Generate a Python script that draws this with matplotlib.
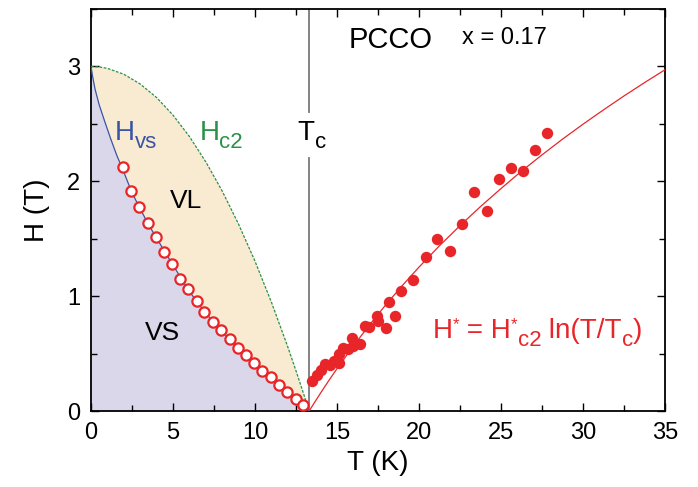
"""
PCCO x = 0.17 phase diagram: vortex solid / vortex liquid and H* above Tc.
Writes out.png
"""
import numpy as np
import matplotlib
matplotlib.use("Agg")
import matplotlib.pyplot as plt
from matplotlib.ticker import MultipleLocator

plt.rcParams["font.family"] = ["Liberation Sans", "DejaVu Sans"]

TC = 13.3

# ── data ─────────────────────────────────────────────────────────────
# H_vs, open circles (T in K, H in T)
vs_T = [1.93, 2.42, 2.95, 3.46, 3.95, 4.47, 4.96, 5.43, 5.90, 6.45, 6.91, 7.42,
        7.93, 8.48, 8.95, 9.45, 9.94, 10.45, 10.96, 11.46, 11.97, 12.48, 12.95]
vs_H = [2.126, 1.917, 1.778, 1.634, 1.517, 1.381, 1.277, 1.146, 1.059, 0.960,
        0.864, 0.777, 0.705, 0.624, 0.546, 0.487, 0.415, 0.351, 0.293, 0.226,
        0.168, 0.104, 0.052]

# H*, filled circles above Tc
hs_T = [13.45, 13.76, 14.00, 14.27, 14.57, 14.84, 15.14, 15.14, 15.39, 15.69,
        15.94, 16.00, 16.40, 16.71, 16.97, 17.42, 17.48, 17.99, 18.17, 18.54,
        18.90, 19.65, 20.41, 21.12, 21.89, 22.62, 23.35, 24.13, 24.86, 25.59,
        26.32, 27.09, 27.80]
hs_H = [0.261, 0.313, 0.357, 0.406, 0.400, 0.438, 0.415, 0.496, 0.546, 0.537,
        0.633, 0.566, 0.580, 0.740, 0.734, 0.827, 0.786, 0.720, 0.946, 0.830,
        1.044, 1.140, 1.343, 1.500, 1.395, 1.625, 1.907, 1.738, 2.022, 2.118,
        2.086, 2.274, 2.417]

# H_vs curve (blue line)
hvs_curve_T = [0.0, 0.1, 0.25, 0.5, 0.85, 1.2, 1.56, 2.0, 2.5, 3.0, 3.5, 4.0,
               5.0, 6.0, 7.0, 8.0, 9.0, 10.0, 11.0, 12.0, 12.5, 13.0, 13.3]
hvs_curve_H = [3.0, 2.91, 2.80, 2.665, 2.515, 2.37, 2.23, 2.08, 1.90, 1.76,
               1.625, 1.505, 1.27, 1.04, 0.85, 0.695, 0.54, 0.41, 0.285, 0.165,
               0.10, 0.045, 0.0]

# H_c2 curve (green dashed)
hc2_curve_T = [0, 0.5, 1, 2, 3, 4, 5, 6, 7, 8, 9, 10, 11, 12, 12.5, 13, 13.3]
hc2_curve_H = [3.0, 2.996, 2.983, 2.932, 2.847, 2.729, 2.576, 2.390, 2.169,
               1.915, 1.626, 1.304, 0.948, 0.558, 0.350, 0.134, 0.0]

# H* = H*c2 ln(T/Tc) fit (red line)
fit_T = [13.3, 13.6, 14.0, 14.5, 15.0, 16.0, 17.0, 18.0, 19.0, 20.0, 21.25,
         22.5, 23.75, 25.0, 26.25, 27.5, 28.75, 30.0, 31.25, 32.5, 33.75, 35.0]
fit_H = [0.0, 0.068, 0.157, 0.265, 0.369, 0.567, 0.753, 0.929, 1.095, 1.253,
         1.439, 1.614, 1.780, 1.937, 2.088, 2.230, 2.367, 2.497, 2.622, 2.743,
         2.859, 2.971]

RED = "#e8262a"
BLUE = "#3b55a5"
GREEN = "#2a9146"
LAVENDER = "#d9d7e9"
BEIGE = "#f9ead2"


def rich_text(ax, x, y, parts, color="black"):
    """Chain text pieces left to right; parts = [(text, size, dy_points), ...]."""
    prev = ax.text(x, y, parts[0][0], fontsize=parts[0][1], color=color,
                   va="bottom", ha="left", zorder=5)
    prev_dy = parts[0][2]
    for s, size, dy in parts[1:]:
        prev = ax.annotate(s, xy=(1, 0), xycoords=prev, xytext=(0, dy - prev_dy),
                           textcoords="offset points", fontsize=size, color=color,
                           va="bottom", ha="left", zorder=5)
        prev_dy = dy
    return prev


fig = plt.figure(figsize=(6.98, 4.87), dpi=100)
ax = fig.add_axes([0.1304, 0.156, 0.8223, 0.8255])

# ── shaded regions ────────────────────────────────────────────────────
ax.fill_between(hc2_curve_T, hc2_curve_H, color=BEIGE, lw=0, zorder=1)
ax.fill_between(hvs_curve_T, hvs_curve_H, color=LAVENDER, lw=0, zorder=1)

ax.plot(hc2_curve_T, hc2_curve_H, color=GREEN, lw=0.9, ls=(0, (2.2, 1.2)), zorder=3)
ax.plot(hvs_curve_T, hvs_curve_H, color=BLUE, lw=0.9, zorder=3)
ax.plot(fit_T, fit_H, color=RED, lw=0.9, zorder=3)

# Tc line, broken around its label
ax.plot([TC, TC], [0, 2.20], color="#7a7a7a", lw=1.3, zorder=2)
ax.plot([TC, TC], [2.60, 3.5], color="#7a7a7a", lw=1.3, zorder=2)

ax.plot(vs_T, vs_H, "o", ms=7.4, mfc="white", mec=RED, mew=1.6, zorder=4)
ax.plot(hs_T, hs_H, "o", ms=8.2, mfc=RED, mec=RED, mew=0, zorder=4)

# ── labels ────────────────────────────────────────────────────────────
ax.text(15.7, 3.23, "PCCO", fontsize=21, va="center", ha="left")
ax.text(22.6, 3.25, "x = 0.17", fontsize=17, va="center", ha="left")
ax.text(4.8, 1.83, "VL", fontsize=19, va="center", ha="left")
ax.text(3.3, 0.68, "VS", fontsize=19, va="center", ha="left")

rich_text(ax, 1.45, 2.31, [("H", 20, 0), ("vs", 16, -5)], color=BLUE)
rich_text(ax, 6.6, 2.31, [("H", 20, 0), ("c2", 16, -5)], color=GREEN)
rich_text(ax, 12.6, 2.31, [("T", 20, 0), ("c", 16, -5)])
rich_text(ax, 20.85, 0.58,
          [("H", 20, 0), ("*", 12, 9), (" = H", 20, 0), ("*", 12, 9),
           ("c2", 16, -5), (" ln(T/T", 20, 0), ("c", 16, -5), (")", 20, 0)],
          color=RED)

ax.set_xlim(0, 35)
ax.set_ylim(0, 3.5)
ax.xaxis.set_major_locator(MultipleLocator(5))
ax.xaxis.set_minor_locator(MultipleLocator(2.5))
ax.yaxis.set_major_locator(MultipleLocator(1))
ax.yaxis.set_minor_locator(MultipleLocator(0.5))
ax.tick_params(which="both", direction="in", top=True, right=True, width=1.0,
               labelsize=17)
ax.tick_params(which="major", length=6, pad=8)
ax.tick_params(which="minor", length=4)
for s in ax.spines.values():
    s.set_linewidth(1.3)

ax.set_xlabel("T (K)", fontsize=20, labelpad=4)
ax.set_ylabel("H (T)", fontsize=20, labelpad=12)

fig.savefig("out.png", dpi=100)
